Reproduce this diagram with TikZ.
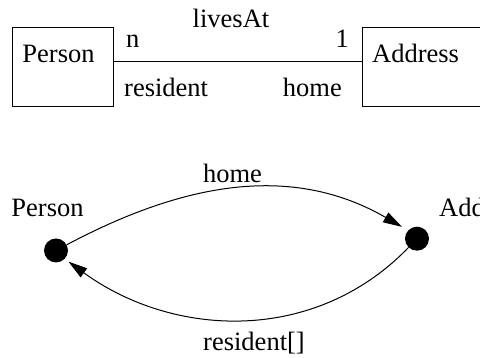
\documentclass[tikz,border=0pt]{standalone}
\usepackage{fontspec}
\setmainfont{Liberation Serif}
\usetikzlibrary{arrows.meta}
\begin{document}
\begin{tikzpicture}[x=1pt,y=1pt,
  every node/.style={font=\fontsize{26.5}{30}\selectfont, inner sep=0pt},
  classbox/.style={draw, line width=1pt, minimum height=79pt},
  objdot/.style={circle, fill=black, minimum size=24pt, inner sep=0pt},
  link/.style={line width=1pt},
  ref/.style={line width=1pt, -{Triangle[length=19pt,width=11pt]}}]
\useasboundingbox (0,0) rectangle (480,358);
% top: class diagram
\node[classbox, minimum width=101pt] (pbox) at (62.5,290.5) {};
\node[classbox, minimum width=133pt] (abox) at (428.5,290.5) {};
\node[anchor=base] (ptext) at (58.5,295) {Person};
\node[anchor=base west] (atext) at (372,295) {Address};
\draw[link] ([yshift=5.5pt]pbox.east) -- ([yshift=5.5pt]abox.west);
\node[anchor=base] (assoc) at (231,330) {livesAt};
\node[anchor=base west] (mn) at (126,310) {n};
\node[anchor=base east] (m1) at (349,310) {1};
\node[anchor=base west] (rres) at (124,261) {resident};
\node[anchor=base east] (rhome) at (342,261) {home};
% bottom: object diagram
\node[objdot] (pd) at (56,107.5) {};
\node[objdot] (ad) at (417,119.3) {};
\node[anchor=base] (pdl) at (47.5,141.3) {Person};
\node[anchor=base west] (adl) at (439,141.3) {Address};
\draw[ref, shorten >=7pt] (pd) to[out=28,in=150] (ad.137);
\draw[ref, shorten >=4.6pt] (ad) to[out=226,in=-36] (pd.-44);
\node[anchor=base] (lhome) at (232.5,175.7) {home};
\node[anchor=base] (lres) at (254,7) {resident[]};
\end{tikzpicture}
\end{document}
